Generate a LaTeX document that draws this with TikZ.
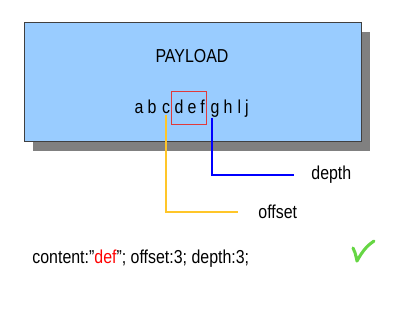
\documentclass[tikz,border=0pt]{standalone}
\usepackage{fontspec}
\setmainfont[FakeStretch=0.85]{Liberation Sans}
\usepackage{tikz}
\usetikzlibrary{positioning, calc, shadows}

\definecolor{payloadblue}{HTML}{99CCFF}
\definecolor{shadowgray}{HTML}{808080}
\definecolor{offsetgold}{HTML}{FFC629}
\definecolor{matchred}{HTML}{E03A3A}
\definecolor{checkgreen}{HTML}{66D644}

\begin{document}
\begin{tikzpicture}[
        x=0.03cm, y=-0.03cm,
        every node/.style={font=\fontsize{16}{18}\selectfont, inner sep=1pt},
        letter/.style={anchor=base},
        label/.style={anchor=base west},
        link/.style={line width=1.3pt}
    ]
        \useasboundingbox (0,0) rectangle (415,312);

        % payload box with its shadow
        \node[draw=black!75, fill=payloadblue, minimum width=10.11cm, minimum height=3.57cm,
              drop shadow={shadow xshift=0.27cm, shadow yshift=-0.3cm, fill=shadowgray, opacity=1}] (box) at (192.5,81.5) {};
        \node[anchor=base] (title) at (192,63) {PAYLOAD};

        % the bytes of the payload
        \foreach \ch/\px in {a/139, b/152, c/166, d/179, e/192, f/202.5, g/215, h/228, l/239.5, j/247}
            \node[letter] (\ch) at (\px,113) {\ch};

        % matched content
        \node[draw=matchred, thick, minimum width=1.05cm, minimum height=0.99cm] (match) at (188.5,107.5) {};

        % labels
        \node[label] (depth) at (310,180) {depth};
        \node[label] (offset) at (257,218) {offset};

        \draw[link, offsetgold] (c.south) |- ([xshift=-0.57cm, yshift=0.18cm]offset.base west);
        \draw[link, blue] ([xshift=-0.09cm]g.south) |- ([xshift=-0.48cm, yshift=0.15cm]depth.base west);

        % rule and result
        \node[label] (rule) at (31,263) {content:”\textcolor{red}{def}”; offset:3; depth:3;};
        \draw[checkgreen, line width=2.6pt, line cap=round, line join=round]
            (353,248) .. controls (355,252) .. (357,261) .. controls (363,250) and (368,245) .. (374,241);
    \end{tikzpicture}
\end{document}
